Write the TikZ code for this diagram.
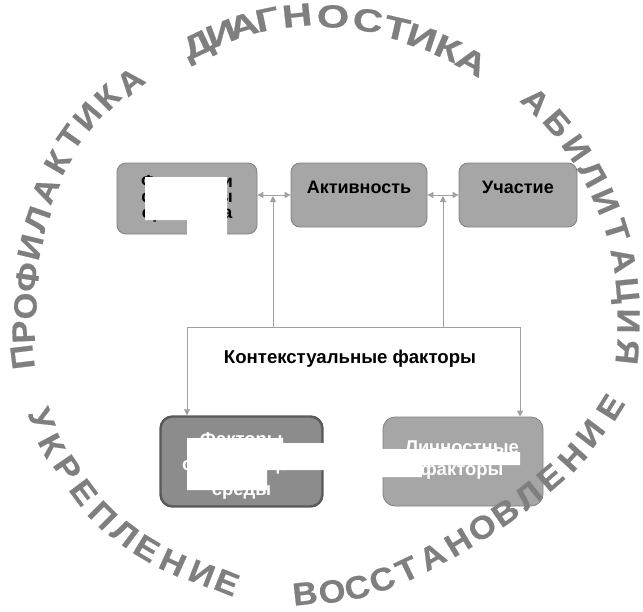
\documentclass[tikz,border=0pt]{standalone}
\usepackage{fontspec}
\setmainfont{Liberation Sans}
\newfontfamily\arcfont[FakeBold=0.6]{Liberation Sans}
\usetikzlibrary{arrows.meta,calc}
\definecolor{boxfill}{HTML}{A6A6A6}
\definecolor{boxline}{HTML}{808080}
\definecolor{darkfill}{HTML}{8C8C8C}
\definecolor{darkline}{HTML}{595959}
\definecolor{connc}{HTML}{A0A0A0}
\definecolor{arcc}{HTML}{7F7F7F}
\begin{document}
\begin{tikzpicture}[x=1pt,y=-1pt,
  >={Triangle[length=6pt,width=6pt]},
  box/.style={draw=boxline, fill=boxfill, line width=0.8pt, rounded corners=9pt,
    inner sep=0pt, align=center},
  topbox/.style={box, font=\fontsize{18}{20}\selectfont\bfseries,
    text height=13pt, text depth=17pt, minimum height=64pt},
  botbox/.style={box, rounded corners=12pt, minimum height=90pt},
  boxline/.style={text=white, font=\fontsize{18.5}{20}\selectfont\bfseries,
    inner sep=0pt, anchor=base},
  conn/.style={draw=connc, line width=1pt},
  arcletter/.style={text=arcc, font=\fontsize{32}{32}\arcfont\bfseries,
    inner sep=0pt, text height=23pt, text depth=0pt, anchor=center},
  redact/.style={fill=white, draw=none}]
\useasboundingbox (0,0) rectangle (643,611);

% boxes
\node[box, font=\fontsize{17.5}{15.5}\selectfont\bfseries, minimum width=140pt, minimum height=71pt]
  (b1) at (187,198.5) {Функции и\\структуры\\организма};
\node[topbox, minimum width=136pt] (b2) at (359,195) {Активность};
\node[topbox, minimum width=118pt] (b3) at (518,195) {Участие};
\node[botbox, draw=darkline, fill=darkfill, line width=2.4pt, minimum width=162pt]
  (b4) at (241.5,461.5) {};
\node[botbox, minimum width=160pt, minimum height=89pt] (b5) at (463,461.5) {};

% texts of the lower boxes
\node[boxline] (b4l1) at (241.5,445) {Факторы};
\node[boxline] (b4l2) at (241.5,470) {окружающей};
\node[boxline] (b4l3) at (241.5,495) {среды};
\node[boxline] (b5l1) at (462,453) {Личностные};
\node[boxline] (b5l2) at (462,475) {факторы};

\node[font=\fontsize{18.6}{20}\selectfont\bfseries, anchor=base, inner sep=0pt]
  (ctx) at (350,363) {Контекстуальные факторы};

% connector points
\coordinate (tl) at (187,327);
\coordinate (tr) at (520,327);
\coordinate (u1) at (273,327);
\coordinate (u2) at (443,327);
\coordinate (m12) at (273,196);
\coordinate (m23) at (443,196);

\draw[conn,<->] (b2.west -| b1.east) -- (b2.west);
\draw[conn,<->] (b2.east) -- (b3.west);
\draw[conn,->] (u1) -- (m12);
\draw[conn,->] (u2) -- (m23);
\draw[conn] (tl) -- (tr);
\draw[conn,->] (tl) -- (tl |- b4.north);
\draw[conn,->] (tr) -- (tr |- b5.north);

% white cover patches
\fill[redact] (145,177) -- (227,177) -- (227,235) -- (187,235) -- (187,220) -- (145,220) -- cycle;
\fill[redact] (187,438) -- (283,438) -- (283,443) -- (350,443) -- (350,449) -- (497,449)
  -- (497,452) -- (520,452) -- (520,465) -- (422,465) -- (422,477) -- (350,477)
  -- (350,470) -- (267,470) -- (267,490) -- (187,490) -- cycle;

% arc texts
\foreach \x/\y/\r/\l [count=\i] in {197/44/25.7/Д, 221/33/20.8/И, 243/25/16.6/А, 267/19/12/Г,
  297/15/6.2/Н, 333/16/-0.8/О, 368/20/-7.4/С, 397/28/-13/Т, 422/37/-18/И, 448/48/-23.5/К,
  472/61/-28.6/А}
  \node[arcletter, rotate=\r] (dg\i) at (\x,\y) {\scalebox{1.3}[1]{\l}};
\foreach \x/\y/\r/\l [count=\i] in {22/357/96.9/П, 23/332/92.4/Р, 25/306/87.6/О, 27/277/81.9/Ф,
  30/247/76.3/И, 37/219/70.8/Л, 45/190/65.6/А, 57/162/60/К, 70/137/54.9/Т, 87/116/49.8/И,
  107/97/45/К, 130/81/39.8/А}
  \node[arcletter, rotate=\r] (pf\i) at (\x,\y) {\scalebox{1.08}[1]{\l}};
\foreach \x/\y/\r/\l [count=\i] in {536/101/-43.3/А, 558/123/-49.2/Б, 577/148/-55/И,
  593/174/-60.9/Л, 606/201/-66.8/И, 617/230/-72.7/Т, 624/260/-78.5/А, 628/290/-84.4/Ц,
  629/321/-90.3/И, 628/352/-96.1/Я}
  \node[arcletter, rotate=\r] (ab\i) at (\x,\y) {\scalebox{1.08}[1]{\l}};
\foreach \x/\y/\r/\l [count=\i] in {42/419/-69/У, 52/445/-62/К, 68/468/-55.8/Р, 84/492/-53.3/Е,
  103/515/-45/П, 125/533/-36.9/Л, 147/548/-31.1/Е, 173/562/-24.4/Н, 202/573/-21.3/И,
  227/582/-21.8/Е}
  \node[arcletter, rotate=\r] (uk\i) at (\x,\y) {\scalebox{1.08}[1]{\l}};
\foreach \x/\y/\r/\l [count=\i] in {305/593/6.3/В, 332/591/8.7/О, 357/587/14.6/С, 382/579/19.8/С,
  407/569/25.6/Т, 432/556/28.8/А, 458/542/31/Н, 482/527/32.6/О, 505/512/34.8/В,
  528/495/38.7/Л, 550/477/40.8/Е, 572/457/47.7/Н, 590/433/52.8/И, 610/407/58/Е}
  \node[arcletter, rotate=\r] (vs\i) at (\x,\y) {\scalebox{1.08}[1]{\l}};
\end{tikzpicture}
\end{document}
